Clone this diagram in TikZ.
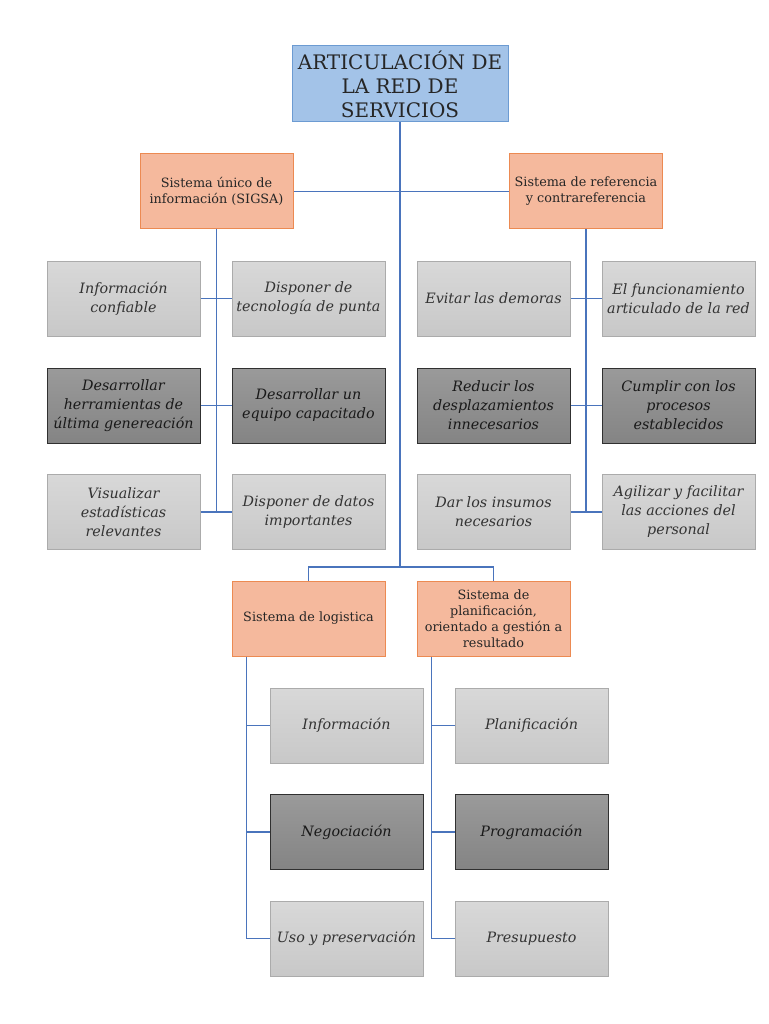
\documentclass[tikz,border=0pt]{standalone}
\usepackage{fontspec}
\setmainfont{DejaVu Serif}
\usetikzlibrary{positioning,calc}
\definecolor{lineblue}{HTML}{4A74BC}
\definecolor{titlefill}{HTML}{A3C3E8}
\definecolor{titledraw}{HTML}{6C9BD2}
\definecolor{sysfill}{HTML}{F5B99D}
\definecolor{sysdraw}{HTML}{EC8A52}
\definecolor{lighttop}{HTML}{D8D8D8}
\definecolor{lightbot}{HTML}{C8C8C8}
\definecolor{lightdraw}{HTML}{ABABAB}
\definecolor{darktop}{HTML}{9A9A9A}
\definecolor{darkbot}{HTML}{848484}
\definecolor{darkdraw}{HTML}{303030}
\tikzset{
  titlebox/.style={draw=titledraw,fill=titlefill,line width=1pt,minimum width=216pt,minimum height=76pt,inner sep=0pt,align=center,text=black!85,font=\fontsize{20}{24}\selectfont},
  sysbox/.style={draw=sysdraw,fill=sysfill,line width=1pt,minimum width=153pt,minimum height=75pt,inner sep=0pt,align=center,text=black!85,font=\fontsize{12.8}{16}\selectfont},
  lightbox/.style={draw=lightdraw,top color=lighttop,bottom color=lightbot,line width=1pt,minimum width=153pt,minimum height=75pt,inner sep=0pt,align=center,text=black!80,font=\fontsize{14.3}{19}\selectfont\itshape},
  darkbox/.style={draw=darkdraw,top color=darktop,bottom color=darkbot,line width=1pt,minimum width=153pt,minimum height=75pt,inner sep=0pt,align=center,text=black!90,font=\fontsize{14.3}{19}\selectfont\itshape},
  link/.style={draw=lineblue,line width=1.2pt}
}
\begin{document}
\begin{tikzpicture}[x=1pt,y=-1pt]
\useasboundingbox (0,0) rectangle (768,1024);

% main boxes
\node [titlebox] (title) at (400,84) {ARTICULACIÓN DE\\LA RED DE\\SERVICIOS};
\node [sysbox] (sigsa) at (216.5,191.5) {Sistema único de\\información (SIGSA)};
\node [sysbox] (refer) at (586,191.5) {Sistema de referencia\\y contrareferencia};
\node [sysbox] (logis) at (308.5,618.5) {Sistema de logistica};
\node [sysbox] (plani) at (493.5,618.5) {Sistema de\\planificación,\\orientado a gestión a\\resultado};

% SIGSA
\node [lightbox] (sa1) at (123.5,298.5) {Información\\confiable};
\node [lightbox] (sb1) at (308.5,298.5) {Disponer de\\tecnología de punta};
\node [darkbox] (sa2) at (123.5,405.5) {Desarrollar\\herramientas de\\última genereación};
\node [darkbox] (sb2) at (308.5,405.5) {Desarrollar un\\equipo capacitado};
\node [lightbox] (sa3) at (123.5,512) {Visualizar\\estadísticas\\relevantes};
\node [lightbox] (sb3) at (308.5,512) {Disponer de datos\\importantes};

% referencia
\node [lightbox] (ra1) at (493.5,298.5) {Evitar las demoras};
\node [lightbox] (rb1) at (678.5,298.5) {El funcionamiento\\articulado de la red};
\node [darkbox] (ra2) at (493.5,405.5) {Reducir los\\desplazamientos\\innecesarios};
\node [darkbox] (rb2) at (678.5,405.5) {Cumplir con los\\procesos\\establecidos};
\node [lightbox] (ra3) at (493.5,512) {Dar los insumos\\necesarios};
\node [lightbox] (rb3) at (678.5,512) {Agilizar y facilitar\\las acciones del\\personal};

% logistica
\node [lightbox] (lg1) at (346.5,725.5) {Información};
\node [darkbox] (lg2) at (346.5,832) {Negociación};
\node [lightbox] (lg3) at (346.5,938.5) {Uso y preservación};

% planificacion
\node [lightbox] (pl1) at (531.5,725.5) {Planificación};
\node [darkbox] (pl2) at (531.5,832) {Programación};
\node [lightbox] (pl3) at (531.5,938.5) {Presupuesto};

\coordinate (split) at (400,567);
\coordinate (lgtrunk) at ($(logis.south west)+(15,0)$);
\coordinate (pltrunk) at ($(plani.south west)+(15,0)$);

\draw[link] (title.south) -- (split);
\draw[link] (sigsa.east) -- (refer.west);
\draw[link] (logis.north) |- (split) -| (plani.north);

\draw[link] (sigsa.south) -- (sigsa.south |- sa3.east);
\draw[link] (sa1.east) -- (sb1.west);
\draw[link] (sa2.east) -- (sb2.west);
\draw[link] (sa3.east) -- (sb3.west);

\draw[link] (refer.south) -- (refer.south |- ra3.east);
\draw[link] (ra1.east) -- (rb1.west);
\draw[link] (ra2.east) -- (rb2.west);
\draw[link] (ra3.east) -- (rb3.west);

\draw[link] (lgtrunk) |- (lg3.west);
\draw[link] (lgtrunk |- lg1.west) -- (lg1.west);
\draw[link] (lgtrunk |- lg2.west) -- (lg2.west);

\draw[link] (pltrunk) |- (pl3.west);
\draw[link] (pltrunk |- pl1.west) -- (pl1.west);
\draw[link] (pltrunk |- pl2.west) -- (pl2.west);

\end{tikzpicture}
\end{document}
